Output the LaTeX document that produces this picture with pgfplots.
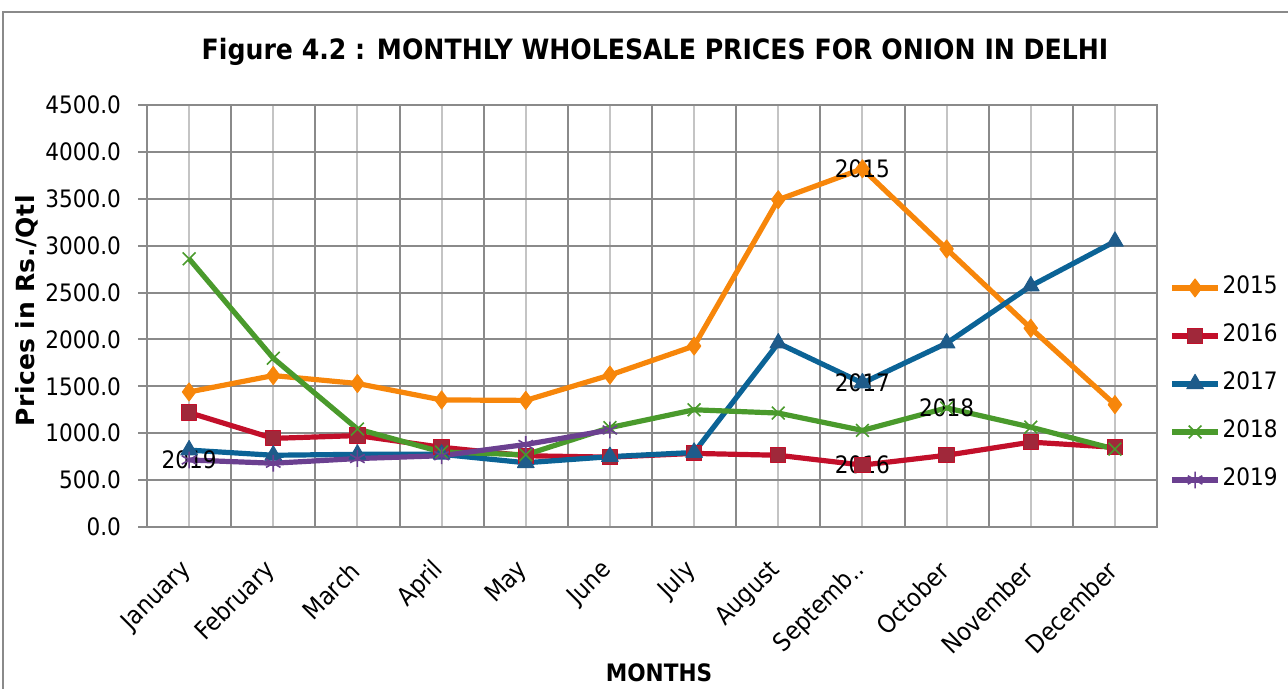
\documentclass[border=0pt]{standalone}
\usepackage{fontspec}
\setmainfont{DejaVu Sans Condensed}
\newfontfamily\wideb[LetterSpace=2]{DejaVu Sans}
\usepackage{pgfplots}
\pgfplotsset{compat=1.18}
\definecolor{c15}{HTML}{F7860A}
\definecolor{c16}{HTML}{C20F2A}
\definecolor{c16f}{HTML}{A0283A}
\definecolor{c17}{HTML}{0B6396}
\definecolor{c17f}{HTML}{1E5B8A}
\definecolor{c18}{HTML}{4A9A2C}
\definecolor{c19}{HTML}{6B4090}
\definecolor{gdark}{HTML}{8A8A8A}
\definecolor{glight}{HTML}{C4C4C4}
\begin{document}
\begin{tikzpicture}
\useasboundingbox (0,0) rectangle (644pt,-344.5pt);
\begin{scope}
\clip (0,0) rectangle (644pt,-344.5pt);
\draw[gdark, line width=1pt] (1.5pt,-6pt) rectangle (660pt,-360pt);
\end{scope}
\node[font=\bfseries\fontsize{14}{16}\selectfont] at (327.5pt,-26pt) {Figure 4.2 : MONTHLY WHOLESALE PRICES FOR ONION IN DELHI};
\node[rotate=90, font=\wideb\bfseries\fontsize{12.5}{14}\selectfont] at (13.5pt,-155.5pt) {Prices in Rs./Qtl};
\node[font=\bfseries\fontsize{12}{14}\selectfont] at (329.5pt,-336.5pt) {MONTHS};
\begin{axis}[
  at={(73.5pt,-263.5pt)}, anchor=south west,
  width=505pt, height=211pt, scale only axis,
  xmin=-0.5, xmax=11.5, ymin=0, ymax=4500,
  ytick={0,500,...,4500},
  xtick={0,...,11},
  xticklabels={January,February,March,April,May,June,July,August,Septemb..,October,November,December},
  minor xtick={0.5,1.5,...,10.5},
  xmajorgrids, xminorgrids, ymajorgrids,
  major x grid style={glight, line width=1pt},
  minor x grid style={gdark, line width=1pt},
  major y grid style={gdark, line width=1pt},
  axis line style={gdark, line width=1pt},
  xtick style={draw=none},
  minor x tick style={draw=none},
  ytick pos=left, tick align=outside,
  ytick style={gdark, line width=1pt},
  major tick length=4.5pt,
  ticklabel style={font=\fontsize{12}{14}\selectfont},
  yticklabel style={xshift=-5pt},
  xticklabel style={rotate=45, anchor=east, yshift=-10pt, xshift=-8pt, font=\fontsize{12.5}{14}\selectfont},
  /pgf/number format/assume math mode=true,
  yticklabel={\pgfmathprintnumber[fixed, fixed zerofill, precision=1, 1000 sep={}]{\tick}},
  legend style={at={(1.006,0.339)}, anchor=west, draw=none, fill=none,
    font=\fontsize{12}{14}\selectfont, row sep=8pt,
    nodes={inner ysep=2pt, inner xsep=1pt, text height=9pt, text depth=3pt}},
  legend cell align=left,
  legend image code/.code={\draw[mark repeat=2,mark phase=2] plot coordinates {(0pt,0pt) (11.5pt,0pt) (23pt,0pt)};},
  every axis plot/.append style={line width=2.6pt, line join=round},
]
\addplot[c15, mark=diamond*, mark size=4.5pt, mark options={solid, fill=c15, line width=0.5pt}]
  coordinates {(0,1440)(1,1615)(2,1530)(3,1355)(4,1350)(5,1620)(6,1930)(7,3490)(8,3820)(9,2965)(10,2120)(11,1305)};
\addlegendentry{2015}
\addplot[c16, mark=square*, mark size=3.8pt, mark options={solid, fill=c16f, draw=c16, line width=0.5pt}]
  coordinates {(0,1220)(1,945)(2,975)(3,850)(4,760)(5,745)(6,785)(7,765)(8,660)(9,765)(10,905)(11,850)};
\addlegendentry{2016}
\addplot[c17, mark=triangle*, mark size=4.8pt, mark options={solid, fill=c17f, draw=c17f, line width=0.5pt}]
  coordinates {(0,820)(1,765)(2,775)(3,775)(4,685)(5,750)(6,795)(7,1960)(8,1535)(9,1960)(10,2570)(11,3045)};
\addlegendentry{2017}
\addplot[c18, mark=x, mark size=4.5pt, mark options={solid, line width=0.8pt}]
  coordinates {(0,2860)(1,1800)(2,1045)(3,800)(4,770)(5,1060)(6,1250)(7,1215)(8,1030)(9,1270)(10,1065)(11,830)};
\addlegendentry{2018}
\addplot[c19, mark=asterisk, mark size=4.2pt, mark options={solid, line width=0.8pt}]
  coordinates {(0,715)(1,680)(2,730)(3,760)(4,880)(5,1035)};
\addlegendentry{2019}
\node[font=\fontsize{12}{14}\selectfont] at (axis cs:8,3820) {2015};
\node[font=\fontsize{12}{14}\selectfont] at (axis cs:8,660) {2016};
\node[font=\fontsize{12}{14}\selectfont] at (axis cs:8,1535) {2017};
\node[font=\fontsize{12}{14}\selectfont] at (axis cs:9,1270) {2018};
\node[font=\fontsize{12}{14}\selectfont] at (axis cs:0,715) {2019};
\end{axis}
\end{tikzpicture}
\end{document}
